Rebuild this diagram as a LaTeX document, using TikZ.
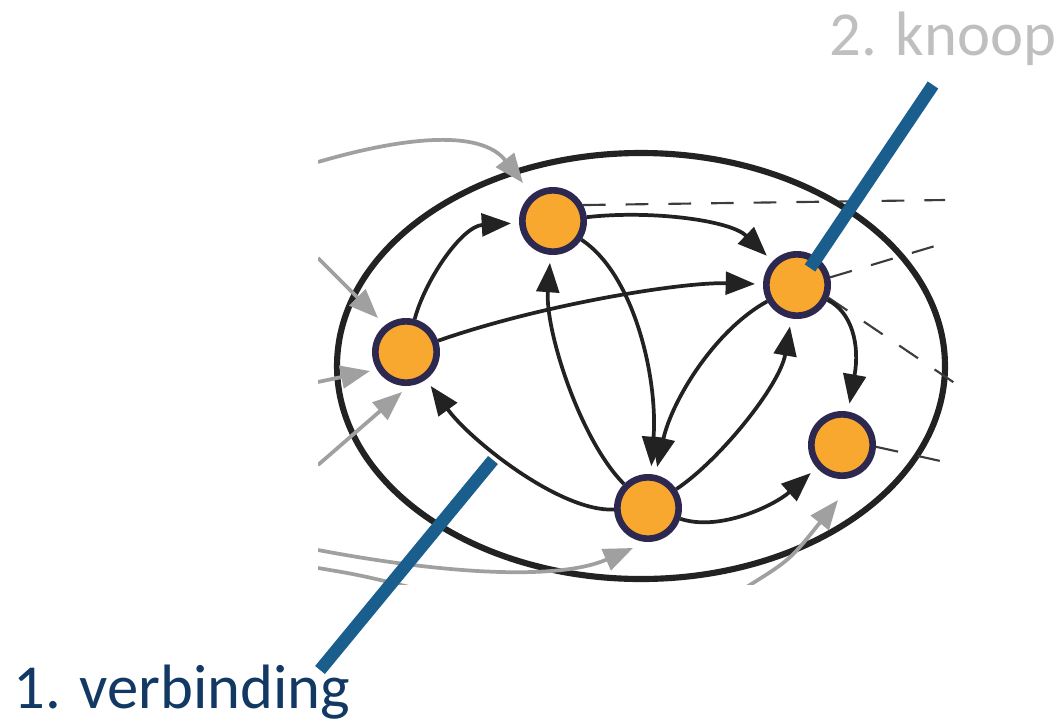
\documentclass[tikz,border=0pt]{standalone}
\usepackage{fontspec}
\setmainfont{Carlito}
\usetikzlibrary{arrows.meta}
\definecolor{nodefill}{RGB}{249,168,47}
\definecolor{nodeline}{RGB}{45,40,80}
\definecolor{edgecol}{RGB}{34,34,34}
\definecolor{graycol}{RGB}{160,160,160}
\definecolor{dashcol}{RGB}{60,60,60}
\definecolor{pointer}{RGB}{26,94,142}
\definecolor{labblue}{RGB}{18,57,100}
\definecolor{labgray}{RGB}{191,191,191}
\tikzset{
  knoop/.style={circle, draw=nodeline, fill=nodefill, line width=5pt, minimum size=46pt, inner sep=0pt},
  edge/.style={draw=edgecol, line width=2.8pt, -{Triangle[length=22pt,width=17pt]}, shorten >=6pt},
  grayedge/.style={draw=graycol, line width=2.8pt, -{Triangle[length=22pt,width=17pt]}},
  grayline/.style={draw=graycol, line width=2.8pt},
  dashline/.style={draw=dashcol, line width=1.6pt, dash pattern=on 17pt off 15pt},
  rim/.style={draw=edgecol, line width=4.6pt},
  pointerline/.style={draw=pointer, line width=9.5pt},
  lab/.style={anchor=base west, inner sep=0pt, font=\fontsize{47}{50}\selectfont}
}
\begin{document}
\begin{tikzpicture}[x=0.75pt,y=-0.75pt]
\useasboundingbox (0,0) rectangle (1060,722);
\begin{scope}
\clip (318,100) rectangle (965,584);
% big ellipse
\draw[rim] (641,366) ellipse [x radius=304, y radius=213];
% nodes
\node[knoop] (A) at (406,352) {};
\node[knoop] (B) at (553,221) {};
\node[knoop] (C) at (797,285) {};
\node[knoop] (D) at (648,508) {};
\node[knoop] (E) at (842,445) {};
% dashed outgoing lines
\coordinate (d1) at (945,200);
\coordinate (d2) at (945,243);
\coordinate (d3) at (962,388);
\coordinate (d4) at (945,462);
\draw[dashline] (B.28) -- (d1);
\draw[dashline] (C.13) -- (d2);
\draw[dashline] (C.-22) -- (d3);
\draw[dashline] (E.-3) -- (d4);
% gray incoming arrows
\coordinate (g1s) at (318,162); \coordinate (g1e) at (523,183);
\coordinate (g2s) at (318,258); \coordinate (g2e) at (378,318);
\coordinate (g3s) at (318,382); \coordinate (g3e) at (370,371);
\coordinate (g4s) at (318,465); \coordinate (g4e) at (402,392);
\coordinate (g5s) at (318,550); \coordinate (g5e) at (633,548);
\coordinate (g6s) at (318,568); \coordinate (g6e) at (430,592);
\coordinate (g7s) at (745,588); \coordinate (g7e) at (838,500);
\draw[grayedge] (g1s) .. controls (400,138) and (480,128) .. (g1e);
\draw[grayedge] (g2s) -- (g2e);
\draw[grayedge] (g3s) -- (g3e);
\draw[grayedge] (g4s) -- (g4e);
\draw[grayedge] (g5s) .. controls (450,575) and (560,580) .. (g5e);
\draw[grayline] (g6s) .. controls (360,575) .. (g6e);
\draw[grayedge] (g7s) .. controls (790,560) .. (g7e);
% black edges
\draw[edge] (A) .. controls (425,280) and (462,226) .. (B);
\draw[edge] (A) .. controls (540,305) and (680,282) .. (C);
\draw[edge] (B) .. controls (650,210) and (730,220) .. (C);
\draw[edge] (B) .. controls (635,275) and (658,380) .. (D);
\draw[edge] (D) .. controls (580,440) and (545,330) .. (B);
\draw[edge] (C) .. controls (715,330) and (672,400) .. (D);
\draw[edge] (D) .. controls (720,460) and (780,385) .. (C);
\draw[edge] (C) .. controls (852,312) and (860,345) .. (E);
\draw[edge] (D) .. controls (720,532) and (775,505) .. (E);
\draw[edge] (D) .. controls (560,512) and (470,440) .. (A);
\end{scope}
% pointer lines
\coordinate (p1a) at (933,85);
\coordinate (p1b) at (810,268);
\coordinate (p2a) at (493,460);
\coordinate (p2b) at (320,670);
\draw[pointerline] (p1a) -- (p1b);
\draw[pointerline] (p2a) -- (p2b);
% labels
\node[lab, text=labgray] (knooplab) at (829,55) {2. knoop};
\node[lab, text=labblue] (verblab) at (13,708) {1. verbinding};
\end{tikzpicture}
\end{document}
